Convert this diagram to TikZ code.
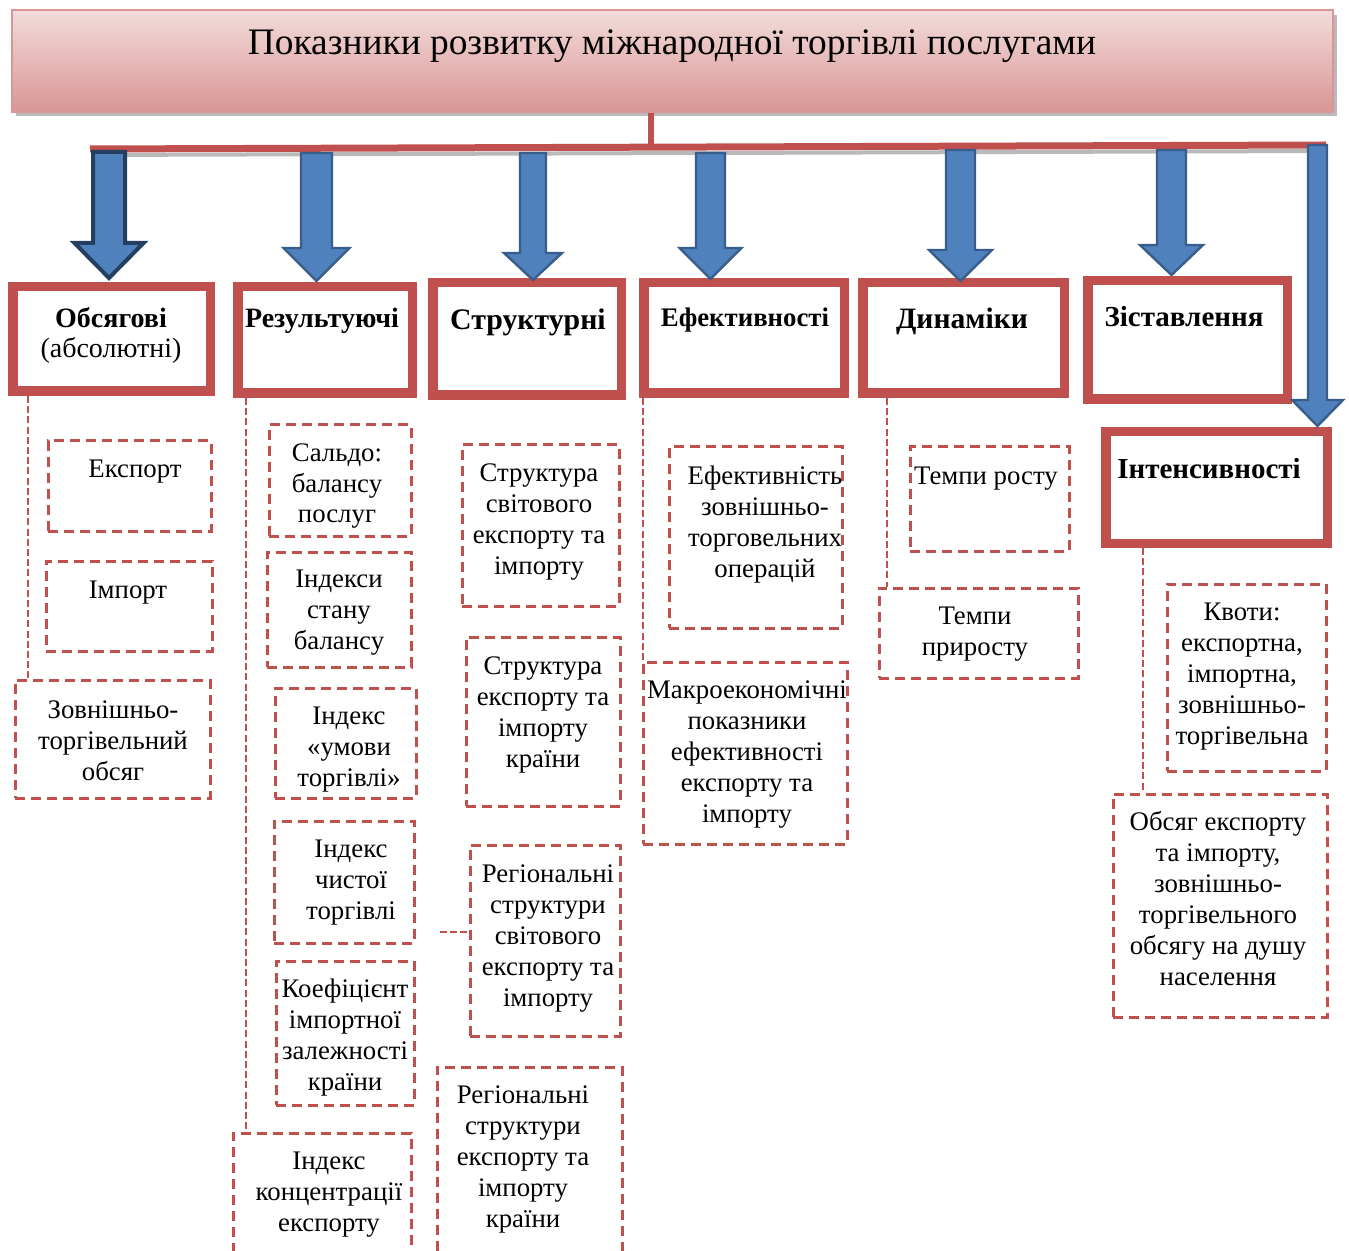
\documentclass[tikz,border=0pt]{standalone}
\usepackage{fontspec}
\setmainfont{Liberation Serif}
\usetikzlibrary{fit,calc}
\definecolor{rd}{HTML}{C0504D}
\definecolor{bl}{HTML}{4F81BD}
\definecolor{bld}{HTML}{385D8A}
\definecolor{navy}{HTML}{243F60}
\definecolor{tpk}{HTML}{F2DCDB}
\definecolor{bpk}{HTML}{D99694}
% name, x1, y1, x2, y2, text x, first baseline y, number of lines, text
\newcommand\dbox[9]{\node[dbx, fit={(#2,#3) (#4,#5)}] (#1) {};
  \node[tx] (#1t) at (#6,{#7+31*(#8-1)}) {#9};}
\newcommand\hdrbox[5]{\node[hd, fit={(#2+4,#3+4) (#4-4,#5-4)}] (#1) {};
  \draw[rd, line width=1.25pt] ([shift={(8.25,8.25)}]#1.north west) rectangle ([shift={(-8.25,-8.25)}]#1.south east);}
\newcommand\barrow[7]{\draw[arr,#7] (#1-#3,#2) -- (#1-#3,#4) -- (#1-#5,#4) -- (#1,#6) -- (#1+#5,#4) -- (#1+#3,#4) -- (#1+#3,#2) -- cycle;}
\begin{document}
\begin{tikzpicture}[x=0.5pt,y=-0.5pt,
 dbx/.style={draw=rd, line width=1.5pt, dash pattern=on 5pt off 3pt, inner sep=0pt},
 dline/.style={draw=rd, line width=1pt, dash pattern=on 3.5pt off 1.6pt},
 tx/.style={font=\fontsize{13.4}{15.5}\selectfont, align=center, anchor=base, inner sep=0pt},
 hd/.style={draw=rd, line width=4pt, inner sep=0pt, fill=white},
 hl/.style={font=\bfseries\fontsize{14.5}{15}\selectfont, align=center, anchor=base, inner sep=0pt},
 arr/.style={fill=bl, draw=bld, line width=1.2pt, line join=miter},
]
\useasboundingbox (0,0) rectangle (1349,1251);
\clip (0,0) rectangle (1349,1251);
% title
\fill[gray!55] (16,15) rectangle (1337,116);
\node[fit={(12,10) (1333,112)}, inner sep=0pt, top color=tpk, bottom color=bpk, draw=bpk, line width=0.8pt] (title) {};
\node[font=\fontsize{18.7}{20}\selectfont, anchor=base, inner sep=0pt] (tt) at (672,55) {Показники розвитку міжнародної торгівлі послугами};
% bar
\draw[gray!55, line width=2pt] (92,155) -- (1326,151);
\draw[rd, line width=3.5pt] (90,149) -- (1326,145);
\coordinate (vx) at (651,0);
\draw[rd, line width=3pt] (title.south -| vx) -- ++(0,36);
% dashed connector x positions
\coordinate (c1) at (28,0);
\coordinate (c2) at (246,0);
\coordinate (c4) at (643,0);
\coordinate (c5) at (887,0);
\coordinate (c7) at (1143,0);
\coordinate (sx) at (440,932);
% headers
\hdrbox{h1}{8}{282}{215}{396}
\hdrbox{h2}{233}{282}{417}{398}
\hdrbox{h3}{428}{278}{626}{400}
\hdrbox{h4}{639}{278}{849}{398}
\hdrbox{h5}{858}{278}{1069}{398}
\hdrbox{h6}{1083}{276}{1292}{404}
\hdrbox{h7}{1101}{427}{1332}{548}
\node[hl, font=\bfseries\fontsize{14}{15}\selectfont] (h1t) at (111,358) {Обсягові\\{\mdseries (абсолютні)}};
\node[hl, font=\bfseries\fontsize{14}{15}\selectfont] (h2t) at (322,328) {Результуючі};
\node[hl, font=\bfseries\fontsize{14.9}{15}\selectfont] (h3t) at (528,330) {Структурні};
\node[hl, font=\bfseries\fontsize{13.4}{15}\selectfont] (h4t) at (745,327) {Ефективності};
\node[hl, font=\bfseries\fontsize{14.8}{15}\selectfont] (h5t) at (962,329) {Динаміки};
\node[hl] (h6t) at (1184,327) {Зіставлення};
\node[hl] (h7t) at (1209,479) {Інтенсивності};
% block arrows
\barrow{109}{152}{16}{243}{34.5}{278}{draw=navy, line width=2pt}
\barrow{316.5}{153}{15.5}{248}{33}{281}{}
\barrow{533}{153}{13}{253}{29}{280}{}
\barrow{710.5}{153}{14.5}{248}{31}{279}{}
\barrow{960.5}{150}{14.5}{250}{31.5}{281}{}
\barrow{1171.5}{150}{14.5}{245}{31.5}{275}{}
\barrow{1317.5}{145}{9.5}{400}{25.5}{426}{}
% dashed boxes
\dbox{eks}{48}{441}{211}{531}{135}{478}{1}{Експорт}
\dbox{imp}{46}{561}{212}{651}{128}{598}{1}{Імпорт}
\dbox{zto}{15}{680}{210}{798}{113}{718}{3}{Зовнішньо-\\торгівельний\\обсяг}
\dbox{sal}{269}{425}{411}{536}{337}{461}{3}{Сальдо:\\балансу\\послуг}
\dbox{isb}{267}{552}{411}{667}{339}{587}{3}{Індекси\\стану\\балансу}
\dbox{iut}{275}{688}{416}{798}{349}{724}{3}{Індекс\\«умови\\торгівлі»}
\dbox{ict}{274}{821}{414}{943}{351}{857}{3}{Індекс\\чистої\\торгівлі}
\dbox{kiz}{276}{961}{414}{1105}{345}{997}{4}{Коефіцієнт\\імпортної\\залежності\\країни}
\dbox{ike}{233}{1133}{411}{1275}{329}{1169}{3}{Індекс\\концентрації\\експорту}
\dbox{ssv}{462}{445}{619}{606}{539}{481}{4}{Структура\\світового\\експорту та\\імпорту}
\dbox{sek}{466}{637}{620}{806}{543}{674}{4}{Структура\\експорту та\\імпорту\\країни}
\dbox{rsv}{470}{845}{620}{1036}{548}{882}{5}{Регіональні\\структури\\світового\\експорту та\\імпорту}
\dbox{rsk}{437}{1067}{622}{1275}{523}{1103}{5}{Регіональні\\структури\\експорту та\\імпорту\\країни}
\dbox{ezo}{669}{447}{842}{628}{765}{484}{4}{Ефективність\\зовнішньо-\\торговельних\\операцій}
\dbox{mak}{643}{662}{847}{844}{747}{698}{5}{Макроекономічні\\показники\\ефективності\\експорту та\\імпорту}
\dbox{tro}{910}{447}{1069}{551}{986}{484}{1}{Темпи росту}
\dbox{tpr}{879}{588}{1078}{678}{975}{624}{2}{Темпи\\приросту}
\dbox{kvo}{1167}{584}{1326}{771}{1242}{620}{5}{Квоти:\\експортна,\\імпортна,\\зовнішньо-\\торгівельна}
\dbox{obs}{1113}{794}{1327}{1017}{1218}{830}{6}{Обсяг експорту\\та імпорту,\\зовнішньо-\\торгівельного\\обсягу на душу\\населення}
% connectors
\draw[dline] (h1.south -| c1) -- (zto.north -| c1);
\draw[dline] (h2.south -| c2) -- (ike.north -| c2);
\draw[dline] (h4.south -| c4) -- (mak.north -| c4);
\draw[dline] (h5.south -| c5) -- (tpr.north -| c5);
\draw[dline] (h7.south -| c7) -- (obs.north -| c7);
\draw[dline] (sx) -- (sx -| rsv.west);
\end{tikzpicture}
\end{document}
